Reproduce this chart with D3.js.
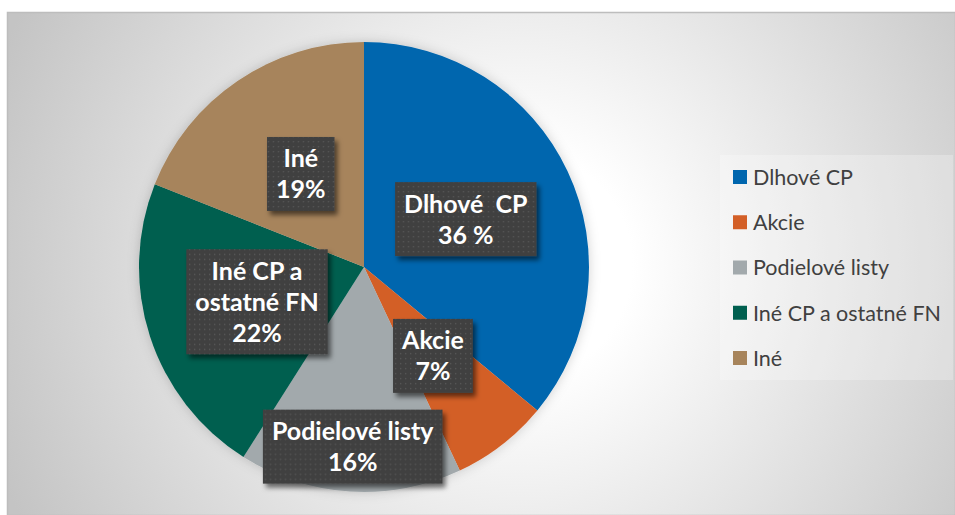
<!DOCTYPE html>
<html>
<head>
<meta charset="utf-8">
<script src="https://cdn.jsdelivr.net/npm/d3@7"></script>
<style>
  body { margin: 0; background: #fff; }
  svg { display: block; }
</style>
</head>
<body>
<svg width="955" height="515"></svg>
<script>
// data
var categories = ["Dlhové CP", "Akcie", "Podielové listy", "Iné CP a ostatné FN", "Iné"];
var values = [36, 7, 16, 22, 19];
var pctLabels = ["36 %", "7%", "16%", "22%", "19%"];
var labelNames = [["Dlhové  CP"], ["Akcie"], ["Podielové listy"], ["Iné CP a", "ostatné FN"], ["Iné"]];
var colors = ["#0066ae", "#d35f27", "#a2a9ac", "#005f4f", "#a7845b"];

var svg = d3.select("svg"),
    W = +svg.attr("width"),
    H = +svg.attr("height"),
    cx = 364, cy = 267, radius = 225;

var defs = svg.append("defs");

var bg = defs.append("radialGradient")
    .attr("id", "bg")
    .attr("gradientUnits", "userSpaceOnUse")
    .attr("cx", 520).attr("cy", 265).attr("r", 560);
bg.append("stop").attr("offset", 0).attr("stop-color", "#ffffff");
bg.append("stop").attr("offset", 0.2).attr("stop-color", "#ffffff");
bg.append("stop").attr("offset", 1).attr("stop-color", "#c4c4c4");

var dots = defs.append("pattern")
    .attr("id", "dots")
    .attr("patternUnits", "userSpaceOnUse")
    .attr("width", 5).attr("height", 5);
dots.append("rect").attr("width", 5).attr("height", 5).attr("fill", "#404040");
dots.append("rect").attr("x", 2).attr("y", 2).attr("width", 1.3).attr("height", 1.3).attr("fill", "#585858");

var glow = defs.append("filter").attr("id", "glow")
    .attr("x", "-20%").attr("y", "-20%").attr("width", "140%").attr("height", "140%");
glow.append("feDropShadow").attr("dx", 0).attr("dy", 0)
    .attr("stdDeviation", 6).attr("flood-color", "#000").attr("flood-opacity", 0.18);

var shadow = defs.append("filter").attr("id", "shadow")
    .attr("x", "-20%").attr("y", "-20%").attr("width", "150%").attr("height", "150%");
shadow.append("feDropShadow").attr("dx", 3).attr("dy", 4)
    .attr("stdDeviation", 2.5).attr("flood-color", "#000").attr("flood-opacity", 0.55);

// frame
svg.append("rect")
    .attr("x", 7.5).attr("y", 12.5)
    .attr("width", W - 7).attr("height", H - 12)
    .attr("fill", "url(#bg)")
    .attr("stroke", "#bdbdbd")
    .attr("stroke-width", 1.5);

var data = categories.map(function(c, i) {
  return { name: c, value: values[i], pct: pctLabels[i], lines: labelNames[i].concat([pctLabels[i]]), color: colors[i] };
});

var pie = d3.pie().sort(null).value(function(d) { return d.value; });
var arc = d3.arc().innerRadius(0).outerRadius(radius);
var arcs = pie(data);

var chartGroup = svg.append("g").attr("transform", "translate(" + cx + "," + cy + ")");

chartGroup.append("g")
    .attr("filter", "url(#glow)")
  .selectAll("path")
    .data(arcs)
  .enter().append("path")
    .attr("d", arc)
    .attr("fill", function(d) { return d.data.color; });

// labels sit on the mid radius, except the small grey slice which was pushed out
function labelArc(d) {
  var r = d.data.name === "Podielové listy" ? radius * 0.8 : radius * 0.5;
  return d3.arc().innerRadius(r).outerRadius(r).centroid(d);
}

var lineH = 31, padY = 6, padX = 9;

var label = chartGroup.selectAll(".lbl")
    .data(arcs)
  .enter().append("g")
    .attr("class", "lbl")
    .attr("transform", function(d) { return "translate(" + labelArc(d) + ")"; });

var box = label.append("rect")
    .attr("fill", "url(#dots)")
    .attr("filter", "url(#shadow)");

label.each(function(d) {
  var g = d3.select(this);
  var h = d.data.lines.length * lineH + padY * 2;
  var txt = g.selectAll("text")
      .data(d.data.lines)
    .enter().append("text")
      .attr("text-anchor", "middle")
      .attr("x", 0)
      .attr("y", function(l, i) { return -h / 2 + padY + lineH * i + lineH / 2; })
      .attr("dy", "0.36em")
      .attr("fill", "#ffffff")
      .style("font", "bold 25px Lato, 'Open Sans', sans-serif")
      .style("white-space", "pre")
      .text(function(l) { return l; });
  var w = 0;
  txt.each(function() { w = Math.max(w, this.getComputedTextLength()); });
  w += padX * 2;
  g.select("rect")
      .attr("x", -w / 2).attr("y", -h / 2)
      .attr("width", w).attr("height", h);
});

// legend
var legend = svg.append("g").attr("transform", "translate(720,155)");
legend.append("rect")
    .attr("width", 233).attr("height", 225)
    .attr("fill", "#ffffff").attr("opacity", 0.25);

var legendY = d3.scalePoint()
    .domain(categories)
    .range([22, 203]);

var item = legend.selectAll(".item")
    .data(data)
  .enter().append("g")
    .attr("class", "item")
    .attr("transform", function(d) { return "translate(13," + legendY(d.name) + ")"; });

item.append("rect")
    .attr("x", 0).attr("y", -7)
    .attr("width", 14).attr("height", 14)
    .attr("fill", function(d) { return d.color; });

item.append("text")
    .attr("x", 20)
    .attr("dy", "0.36em")
    .attr("fill", "#404040")
    .style("font", "21.5px Lato, 'Open Sans', sans-serif")
    .text(function(d) { return d.name; });
</script>
</body>
</html>
